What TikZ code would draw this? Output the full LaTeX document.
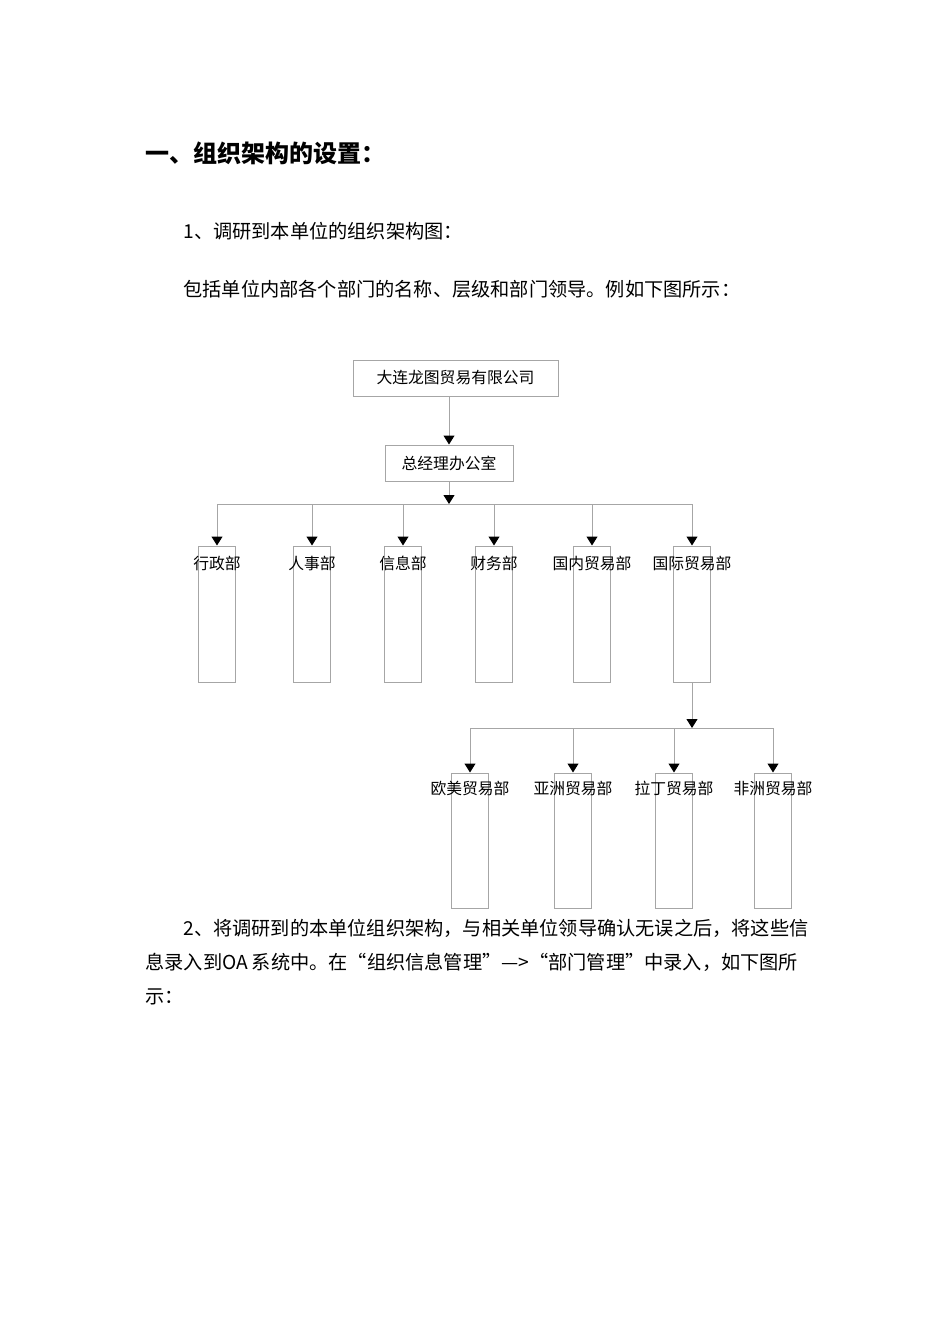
\documentclass[tikz,border=0pt]{standalone}
\usepackage{fontspec}
\newfontfamily\cjk{Noto Sans CJK SC}
\XeTeXlinebreaklocale "zh"
\XeTeXlinebreakskip=0pt plus 1pt
\usetikzlibrary{positioning,arrows.meta}
\tikzset{
  para/.style={anchor=west,inner sep=0pt,font=\cjk\fontsize{9.6pt}{11pt}\selectfont},
  orgbox/.style={draw=black!35,line width=0.5pt,inner sep=0pt,minimum height=18pt,font=\cjk\fontsize{7.9pt}{9pt}\selectfont},
  deptbox/.style={draw=black!35,line width=0.5pt,inner sep=0pt,minimum width=18.5pt,minimum height=68pt},
  dlabel/.style={inner sep=0pt,font=\cjk\fontsize{7.9pt}{9pt}\selectfont},
  link/.style={draw=black!35,line width=0.5pt},
  tip/.style={-{Triangle[color=black,length=4.5pt,width=5.5pt]}}
}
\begin{document}
\begin{tikzpicture}[x=0.5pt,y=-0.5pt]
\useasboundingbox (0,0) rectangle (950,1344);
\node[para,font=\cjk\bfseries\fontsize{12pt}{14pt}\selectfont] (title) at (145,153) {一、组织架构的设置：};
\node[para] (p1) at (183,231) {1、调研到本单位的组织架构图：};
\node[para] (p2) at (183,289) {包括单位内部各个部门的名称、层级和部门领导。例如下图所示：};
\node[para] (p3) at (183,928) {\makebox[310pt][s]{2、将调研到的本单位组织架构，与相关单位领导确认无误之后，将这些信}};
\node[para] (p4) at (145,962) {\makebox[329pt][s]{息录入到OA\kern2pt 系统中。在“组织信息管理”—>“部门管理”中录入，如下图所}};
\node[para] (p5) at (145,997) {示：};

\node[orgbox,minimum width=102.5pt] (co) at (455.5,378) {大连龙图贸易有限公司};
\node[orgbox,minimum width=64pt] (gm) at (449,463) {总经理办公室};
\draw[link,tip] (gm.north |- co.south) -- (gm.north);
\coordinate (j1) at (449,504);
\draw[link,tip] (gm.south) -- (j1);
\foreach \n/\x/\lbl in {xz/217/行政部,rs/312/人事部,xx/403/信息部,cw/494/财务部,gn/592/国内贸易部,gj/692/国际贸易部}{
  \node[deptbox] (\n) at (\x,614) {};
  \node[dlabel] (\n-t) at (\x,563) {\lbl};
  \draw[link,tip] (j1 -| \n) -- (\n.north);
}
\draw[link] (j1 -| xz) -- (j1 -| gj);

\coordinate (j2) at (692,728);
\draw[link,tip] (gj.south) -- (j2);
\foreach \n/\x/\lbl in {om/470/欧美贸易部,yz/573/亚洲贸易部,ld/674/拉丁贸易部,fz/773/非洲贸易部}{
  \node[deptbox,minimum height=67.5pt] (\n) at (\x,840.5) {};
  \node[dlabel] (\n-t) at (\x,788) {\lbl};
  \draw[link,tip] (j2 -| \n) -- (\n.north);
}
\draw[link] (j2 -| om) -- (j2 -| fz);
\end{tikzpicture}
\end{document}
